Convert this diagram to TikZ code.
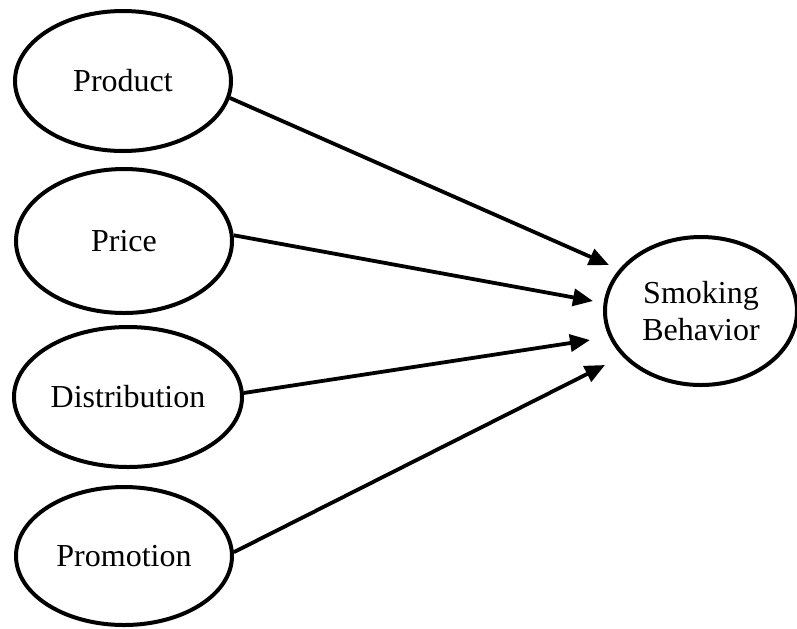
\documentclass[tikz,border=0pt]{standalone}
\usepackage{fontspec}
\setmainfont{Liberation Serif}
\usetikzlibrary{shapes.geometric,arrows.meta}
\begin{document}
\begin{tikzpicture}[x=0.5pt,y=-0.5pt,
  oval/.style={draw, ellipse, line width=2pt, inner sep=0pt,
    font=\fontsize{16}{18.5}\selectfont, align=center},
  link/.style={line width=1.9pt, -{Triangle[length=10pt,width=8.5pt]}}]
\useasboundingbox (0,0) rectangle (797,628);
\node[oval, minimum width=108pt, minimum height=70pt] (prod) at (123,81) {Product};
\node[oval, minimum width=108pt, minimum height=72pt] (price) at (124,241) {Price};
\node[oval, minimum width=114pt, minimum height=70pt] (dist) at (128,397) {Distribution};
\node[oval, minimum width=108pt, minimum height=69pt] (promo) at (124,556) {Promotion};
\node[oval, minimum width=96pt, minimum height=74pt] (smoke) at (701,311) {Smoking\\Behavior};
\coordinate (t1) at (609,265);
\coordinate (t2) at (593,301);
\coordinate (t3) at (590,340);
\coordinate (t4) at (605,365);
\draw[link] (prod.-9) -- (t1);
\draw[link] (price.3) -- (t2);
\draw[link] (dist.2) -- (t3);
\draw[link] (promo.2) -- (t4);
\end{tikzpicture}
\end{document}
